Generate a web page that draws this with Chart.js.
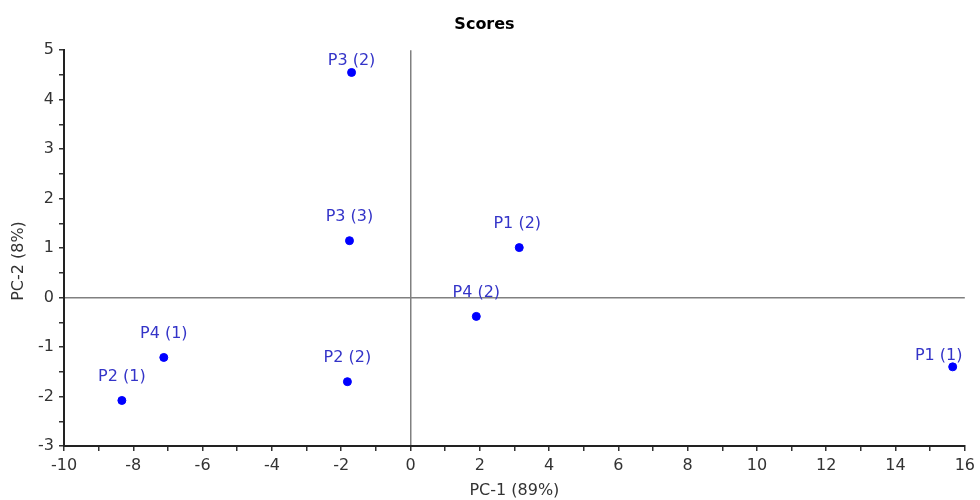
<!DOCTYPE html>
<html>
<head>
<meta charset="utf-8">
<script src="https://cdn.jsdelivr.net/npm/chart.js@4/dist/chart.umd.min.js"></script>
<style>
  html, body { margin: 0; padding: 0; background: #fff; }
  #wrap { width: 980px; height: 500px; }
</style>
</head>
<body>
<div id="wrap"><canvas id="scores-chart"></canvas></div>
<script>
// scores data
const pointNames = ["P3 (2)", "P3 (3)", "P1 (2)", "P4 (2)", "P4 (1)", "P2 (1)", "P2 (2)", "P1 (1)"];
const pc1 = [-1.70, -1.76, 3.14, 1.90, -7.12, -8.33, -1.82, 15.65];
const pc2 = [4.55, 1.15, 1.01, -0.38, -1.21, -2.08, -1.70, -1.40];

// label offsets in px (dx, dy from point)
const labelDx = [0, 0, -2, 0, 0, 0, 0, -14];
const labelDy = [-12, -24, -24, -24, -24, -24, -24, -11];

const FONT = "'DejaVu Sans', sans-serif";

// point labels + y axis title
const pointLabels = {
  id: "pointLabels",
  afterDatasetsDraw(chart) {
    const c = chart.ctx;
    const meta = chart.getDatasetMeta(0);
    c.save();
    c.font = "16px " + FONT;
    c.fillStyle = "#3434c8";
    c.textAlign = "center";
    c.textBaseline = "middle";
    meta.data.forEach((pt, i) => {
      c.fillText(pointNames[i], pt.x + labelDx[i], pt.y + labelDy[i]);
    });
    c.restore();

    // y title
    c.save();
    c.font = "16px " + FONT;
    c.fillStyle = "#333";
    c.textAlign = "center";
    c.textBaseline = "middle";
    c.translate(19, 261);
    c.rotate(-Math.PI / 2);
    c.fillText("PC-2 (8%)", 0, 0);
    c.restore();
  },
};

const ctx = document.getElementById("scores-chart").getContext("2d");
const scoresChart = new Chart(ctx, {
  type: "scatter",
  data: {
    datasets: [
      {
        label: "Scores",
        data: pc1.map((x, i) => ({ x: x, y: pc2[i] })),
        backgroundColor: "#0000ff",
        borderColor: "#0000ff",
        pointRadius: 4,
        pointHoverRadius: 4,
      },
    ],
  },
  options: {
    responsive: true,
    maintainAspectRatio: false,
    animation: false,
    layout: { padding: { left: 0, right: 11, top: 0, bottom: 0 } },
    plugins: {
      legend: { display: false },
      tooltip: { enabled: false },
      title: {
        display: true,
        text: "Scores",
        color: "#000",
        font: { family: FONT, size: 16, weight: "bold" },
        padding: { top: 15, bottom: 16 },
      },
    },
    scales: {
      x: {
        type: "linear",
        min: -10,
        max: 16,
        afterFit: (s) => { s.height = 54; },
        border: { display: true, color: "#222", width: 2 },
        grid: {
          drawOnChartArea: true,
          drawTicks: true,
          tickLength: 5,
          color: (c) => (c.tick && c.tick.value === 0 ? "#808080" : "rgba(0,0,0,0)"),
          lineWidth: 1.5,
          tickColor: "#333",
        },
        ticks: {
          stepSize: 1,
          autoSkip: false,
          maxRotation: 0,
          color: "#333",
          padding: 5,
          font: { family: FONT, size: 16 },
          callback: (v) => (v % 2 === 0 ? v : ""),
        },
        title: {
          display: true,
          text: "PC-1 (89%)",
          color: "#333",
          font: { family: FONT, size: 16 },
          padding: { top: 0, bottom: 0 },
        },
      },
      y: {
        type: "linear",
        min: -3,
        max: 5,
        afterFit: (s) => { s.width = 64; },
        border: { display: true, color: "#222", width: 2 },
        grid: {
          drawOnChartArea: true,
          drawTicks: true,
          tickLength: 5,
          color: (c) => (c.tick && c.tick.value === 0 ? "#808080" : "rgba(0,0,0,0)"),
          lineWidth: 1.5,
          tickColor: "#333",
        },
        ticks: {
          stepSize: 0.5,
          autoSkip: false,
          color: "#333",
          padding: 5,
          font: { family: FONT, size: 16 },
          callback: (v) => (Number.isInteger(v) ? v : ""),
        },
      },
    },
  },
  plugins: [pointLabels],
});
</script>
</body>
</html>
